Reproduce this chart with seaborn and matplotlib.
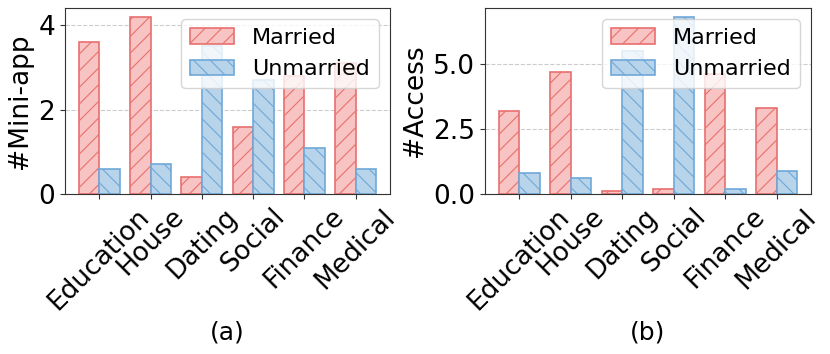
import pandas as pd
import seaborn as sns
import matplotlib.pyplot as plt
from matplotlib.patches import Patch

categories = ['Education', 'House', 'Dating', 'Social', 'Finance', 'Medical']
groups = ['Married', 'Unmarried']

miniapp_married = [3.6, 4.2, 0.4, 1.6, 2.8, 3.1]
miniapp_unmarried = [0.6, 0.7, 3.5, 2.7, 1.1, 0.6]

access_married = [3.2, 4.7, 0.1, 0.2, 4.6, 3.3]
access_unmarried = [0.8, 0.6, 5.5, 6.8, 0.2, 0.9]

faces = {'Married': '#f8c3c3', 'Unmarried': '#b8d4ea'}
edges = {'Married': '#e8706e', 'Unmarried': '#6fa8d8'}
hatches = {'Married': '//', 'Unmarried': '\\\\'}

plt.rcParams['hatch.linewidth'] = 0.8

def long_df(married, unmarried):
    rows = []
    for c, m, u in zip(categories, married, unmarried):
        rows.append({'cat': c, 'group': 'Married', 'val': m})
        rows.append({'cat': c, 'group': 'Unmarried', 'val': u})
    return pd.DataFrame(rows)

fig = plt.figure(figsize=(8.3, 3.54), dpi=100)
ax1 = fig.add_axes([65 / 830, 1 - 194 / 354, 325 / 830, 186 / 354])
ax2 = fig.add_axes([485 / 830, 1 - 194 / 354, 326 / 830, 186 / 354])

panels = [
    (ax1, long_df(miniapp_married, miniapp_unmarried), '#Mini-app', '(a)', [0, 2, 4], ['0', '2', '4']),
    (ax2, long_df(access_married, access_unmarried), '#Access', '(b)', [0, 2.5, 5.0], ['0.0', '2.5', '5.0']),
]

for ax, df, ylab, xlab, yt, ytl in panels:
    sns.barplot(data=df, x='cat', y='val', hue='group', hue_order=groups,
                order=categories, ax=ax, width=0.8, legend=False)
    for cont, g in zip(ax.containers, groups):
        for bar in cont:
            bar.set_facecolor(faces[g])
            bar.set_edgecolor(edges[g])
            bar.set_hatch(hatches[g])
            bar.set_linewidth(1.2)
    ax.set_xlim(-0.67, 5.67)
    ax.set_yticks(yt)
    ax.set_yticklabels(ytl, fontsize=19)
    ax.set_ylabel(ylab, fontsize=19)
    ax.set_xlabel(xlab, fontsize=18, labelpad=4)
    ax.tick_params(axis='x', labelsize=19, labelrotation=45, colors='#333333', labelcolor='black')
    ax.tick_params(axis='y', colors='#333333', labelcolor='black')
    ax.yaxis.grid(True, linestyle='--', color='#cccccc', linewidth=0.8)
    ax.set_axisbelow(True)
    for s in ax.spines.values():
        s.set_color('#333333')
    handles = [Patch(facecolor=faces[g], edgecolor=edges[g], hatch=hatches[g], linewidth=1.2, label=g)
               for g in groups]
    ax.legend(handles=handles, loc='upper right', fontsize=16)

fig.savefig('out.png', dpi=100)
